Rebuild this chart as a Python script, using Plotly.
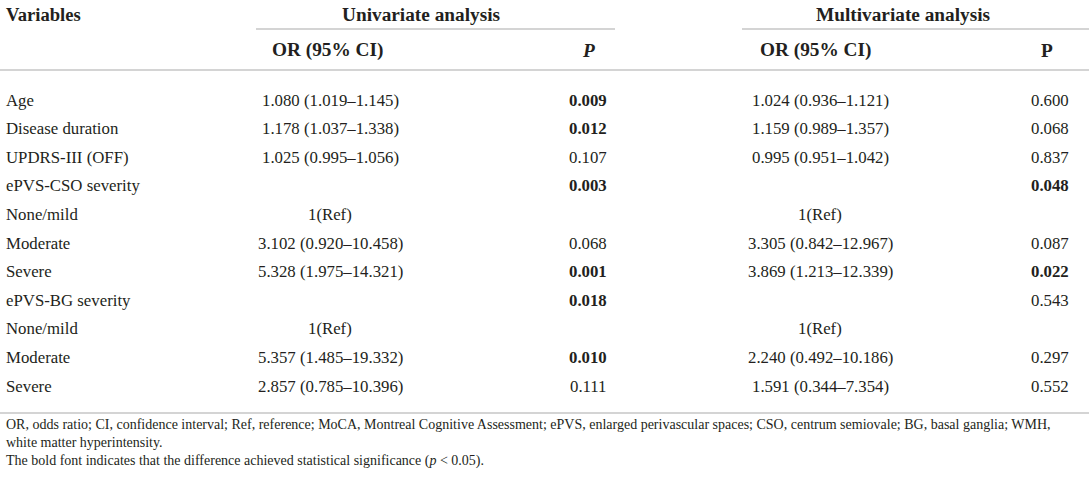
import plotly.graph_objects as go

# table content
variables = ["Age", "Disease duration", "UPDRS-III (OFF)", "ePVS-CSO severity",
             "None/mild", "Moderate", "Severe", "ePVS-BG severity",
             "None/mild", "Moderate", "Severe"]
uni_or = ["1.080 (1.019–1.145)", "1.178 (1.037–1.338)", "1.025 (0.995–1.056)", "",
          "1(Ref)", "3.102 (0.920–10.458)", "5.328 (1.975–14.321)", "",
          "1(Ref)", "5.357 (1.485–19.332)", "2.857 (0.785–10.396)"]
uni_p = ["0.009", "0.012", "0.107", "0.003", "", "0.068", "0.001", "0.018", "", "0.010", "0.111"]
uni_sig = [True, True, False, True, False, False, True, True, False, True, False]
multi_or = ["1.024 (0.936–1.121)", "1.159 (0.989–1.357)", "0.995 (0.951–1.042)", "",
            "1(Ref)", "3.305 (0.842–12.967)", "3.869 (1.213–12.339)", "",
            "1(Ref)", "2.240 (0.492–10.186)", "1.591 (0.344–7.354)"]
multi_p = ["0.600", "0.068", "0.837", "0.048", "", "0.087", "0.022", "0.543", "", "0.297", "0.552"]
multi_sig = [False, False, False, True, False, False, True, False, False, False, False]

footnote = ["OR, odds ratio; CI, confidence interval; Ref, reference; MoCA, Montreal Cognitive Assessment; ePVS, enlarged perivascular spaces; CSO, centrum semiovale; BG, basal ganglia; WMH,",
            "white matter hyperintensity.",
            "The bold font indicates that the difference achieved statistical significance (<i>p</i> &lt; 0.05)."]

W, H = 1089, 481
FONT = "Liberation Serif"
TXT = "#231f20"
RULE = "#d4d4d4"

fig = go.Figure()
fig.add_trace(go.Scatter(x=[0, W], y=[0, H], mode="markers", marker=dict(opacity=0),
                         hoverinfo="skip", showlegend=False))

ann = []
def txt(x, y, s, size=16.8, anchor="center"):
    ann.append(dict(x=x, y=y, text=s, showarrow=False, xanchor=anchor, yanchor="middle",
                    font=dict(family=FONT, size=size, color=TXT)))

# headers
HS = 19.3
txt(4, 14, "<b>Variables</b>", 18.6, "left")
txt(421, 14, "<b>Univariate analysis</b>", HS)
txt(903, 14, "<b>Multivariate analysis</b>", HS)
txt(327, 50, "<b>OR (95% CI)</b>", HS)
txt(588, 50, "<b><i>P</i></b>", HS)
txt(815, 50, "<b>OR (95% CI)</b>", HS)
txt(1047, 50, "<b>P</b>", HS)

# body rows
y0, dy = 100, 28.6
for i, v in enumerate(variables):
    y = y0 + i * dy
    txt(4, y, v, anchor="left")
    txt(330, y, uni_or[i])
    txt(588, y, "<b>%s</b>" % uni_p[i] if uni_sig[i] else uni_p[i])
    txt(820, y, multi_or[i])
    txt(1050, y, "<b>%s</b>" % multi_p[i] if multi_sig[i] else multi_p[i])

# footnotes
for i, s in enumerate(footnote):
    txt(4, 424 + i * 18.3, s, 14.0, "left")

shapes = []
def rule(x1, x2, y):
    shapes.append(dict(type="line", x0=x1, x1=x2, y0=y, y1=y, xref="x", yref="y",
                       line=dict(color=RULE, width=2)))
rule(256, 615, 29)
rule(742, W, 29)
rule(0, W, 70)
rule(0, W, 413)

fig.update_layout(
    width=W, height=H, margin=dict(l=0, r=0, t=0, b=0),
    paper_bgcolor="white", plot_bgcolor="white",
    xaxis=dict(range=[0, W], visible=False, fixedrange=True),
    yaxis=dict(range=[H, 0], visible=False, fixedrange=True),
    annotations=ann, shapes=shapes, showlegend=False,
)
fig.write_html("out.html", config={"displayModeBar": False},
               post_script="document.body.style.margin='0';document.body.style.overflow='hidden';")
